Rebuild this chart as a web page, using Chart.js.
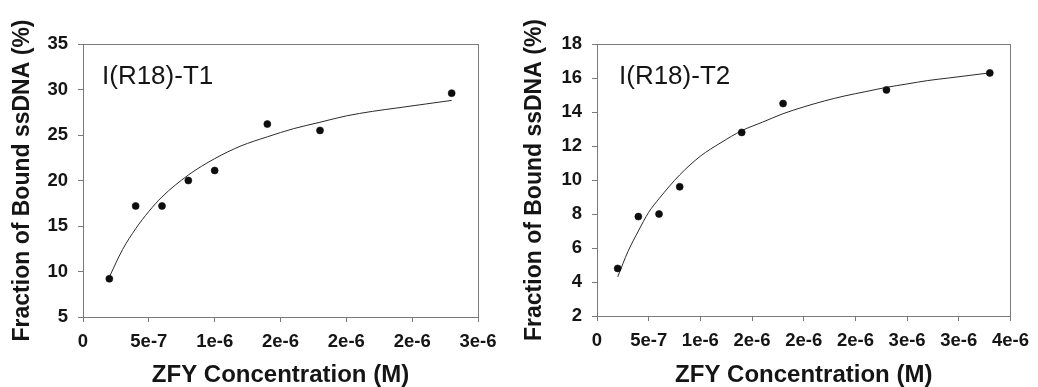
<!DOCTYPE html>
<html>
<head>
<meta charset="utf-8">
<script src="https://cdn.jsdelivr.net/npm/chart.js@4/dist/chart.umd.min.js"></script>
<style>
  html, body { margin: 0; padding: 0; background: #ffffff; }
  #wrap { position: relative; width: 1038px; height: 387px; overflow: hidden; }
  canvas { position: absolute; top: 0; }
  #c1 { left: 0; }
  #c2 { left: 512px; }
</style>
</head>
<body>
<div id="wrap">
  <canvas id="c1" width="512" height="387"></canvas>
  <canvas id="c2" width="526" height="387"></canvas>
</div>
<script>
// ---- I(R18)-T1: measured binding points (ZFY concentration in M, bound ssDNA in %)
const t1Conc  = [2e-7, 4e-7, 6e-7, 8e-7, 1.0e-6, 1.4e-6, 1.8e-6, 2.8e-6];
const t1Bound = [9.2, 17.2, 17.2, 20.0, 21.1, 26.2, 25.5, 29.6];
// fitted saturation curve for T1
const t1FitConc  = [2e-7, 3e-7, 4e-7, 5e-7, 6e-7, 8e-7, 1.0e-6, 1.2e-6, 1.4e-6, 1.6e-6, 1.8e-6, 2.0e-6, 2.2e-6, 2.4e-6, 2.6e-6, 2.8e-6];
const t1FitBound = [9.4, 12.4, 14.7, 16.6, 18.2, 20.6, 22.4, 23.8, 24.8, 25.7, 26.4, 27.1, 27.6, 28.0, 28.4, 28.8];
const t1XTickLabels = ['0', '5e-7', '1e-6', '2e-6', '2e-6', '2e-6', '3e-6'];

// ---- I(R18)-T2
const t2Conc  = [2e-7, 4e-7, 6e-7, 8e-7, 1.4e-6, 1.8e-6, 2.8e-6, 3.8e-6];
const t2Bound = [4.8, 7.85, 8.0, 9.6, 12.8, 14.5, 15.3, 16.3];
const t2FitConc  = [2e-7, 3e-7, 4e-7, 5e-7, 6e-7, 8e-7, 1.0e-6, 1.2e-6, 1.4e-6, 1.6e-6, 1.8e-6, 2.0e-6, 2.2e-6, 2.4e-6, 2.6e-6, 2.8e-6, 3.0e-6, 3.2e-6, 3.4e-6, 3.6e-6, 3.8e-6];
const t2FitBound = [4.3, 5.8, 7.0, 8.1, 8.9, 10.3, 11.4, 12.2, 12.9, 13.4, 13.9, 14.3, 14.65, 14.95, 15.2, 15.45, 15.65, 15.85, 16.0, 16.15, 16.3];
const t2XTickLabels = ['0', '5e-7', '1e-6', '2e-6', '2e-6', '2e-6', '3e-6', '3e-6', '4e-6'];

const FONT = "'Liberation Sans', Arial, Helvetica, sans-serif";
const AXIS_COLOR = '#7a7a7a';
const TEXT_COLOR = '#151515';

// draws the panel caption inside the plot frame
const panelLabel = {
  id: 'panelLabel',
  afterDatasetsDraw(chart, args, opts) {
    const { ctx, chartArea } = chart;
    ctx.save();
    ctx.font = `normal ${opts.size}px ${FONT}`;
    ctx.fillStyle = TEXT_COLOR;
    ctx.textBaseline = 'alphabetic';
    ctx.textAlign = 'left';
    ctx.fillText(opts.text, chartArea.left + opts.dx, chartArea.top + opts.dy);
    ctx.restore();
  }
};

function pairs(xs, ys) {
  return xs.map((x, i) => ({ x: x, y: ys[i] }));
}

function buildChart(canvasId, cfg) {
  return new Chart(document.getElementById(canvasId), {
    type: 'scatter',
    data: {
      datasets: [
        {
          label: 'measured',
          data: pairs(cfg.conc, cfg.bound),
          pointRadius: 3.5,
          pointHoverRadius: 3.5,
          pointBackgroundColor: '#0d0d0d',
          pointBorderColor: '#0d0d0d',
          pointBorderWidth: 0.6,
          showLine: false
        },
        {
          label: 'fit',
          data: pairs(cfg.fitConc, cfg.fitBound),
          showLine: true,
          pointRadius: 0,
          borderColor: '#2a2a2a',
          borderWidth: 1,
          cubicInterpolationMode: 'monotone',
          fill: false
        }
      ]
    },
    options: {
      responsive: false,
      devicePixelRatio: 1,
      animation: false,
      events: [],
      layout: { padding: { top: 44, right: cfg.padRight, bottom: 0, left: 0 } },
      plugins: {
        legend: { display: false },
        tooltip: { enabled: false },
        panelLabel: { text: cfg.caption, dx: cfg.captionDx, dy: 40, size: 26 }
      },
      scales: {
        x: {
          type: 'linear',
          position: 'bottom',
          min: 0,
          max: cfg.xMax,
          ticks: {
            stepSize: 5e-7,
            autoSkip: false,
            maxRotation: 0,
            padding: 9,
            color: TEXT_COLOR,
            font: { family: FONT, size: 18.5, weight: 'bold' },
            callback: (v, i) => cfg.xLabels[i]
          },
          grid: { display: true, drawOnChartArea: false, drawTicks: true, tickLength: 5, color: AXIS_COLOR },
          border: { display: true, color: AXIS_COLOR, width: 1 },
          title: {
            display: true,
            text: 'ZFY Concentration (M)',
            color: TEXT_COLOR,
            font: { family: FONT, size: 24, weight: 'bold', lineHeight: 1 },
            padding: { top: 0, bottom: 0 }
          },
          afterFit: (s) => { s.height = cfg.xAxisHeight; }
        },
        y: {
          type: 'linear',
          position: 'left',
          min: cfg.yMin,
          max: cfg.yMax,
          ticks: {
            stepSize: cfg.yStep,
            padding: 10,
            color: TEXT_COLOR,
            font: { family: FONT, size: 18.5, weight: 'bold' }
          },
          grid: { display: true, drawOnChartArea: false, drawTicks: true, tickLength: 5, color: AXIS_COLOR },
          border: { display: true, color: AXIS_COLOR, width: 1 },
          title: {
            display: true,
            text: 'Fraction of Bound ssDNA (%)',
            color: TEXT_COLOR,
            font: { family: FONT, size: 23, weight: 'bold', lineHeight: 1 },
            padding: { top: 11.5, bottom: 0 }
          },
          afterFit: (s) => { s.width = cfg.yAxisWidth; }
        },
        xTop: {
          axis: 'x',
          type: 'linear',
          position: 'top',
          min: 0,
          max: cfg.xMax,
          ticks: { display: false },
          grid: { display: false },
          border: { display: true, color: AXIS_COLOR, width: 1 },
          afterFit: (s) => { s.height = 0; }
        },
        yRight: {
          axis: 'y',
          type: 'linear',
          position: 'right',
          min: cfg.yMin,
          max: cfg.yMax,
          ticks: { display: false },
          grid: { display: false },
          border: { display: true, color: AXIS_COLOR, width: 1 },
          afterFit: (s) => { s.width = 0; }
        }
      }
    },
    plugins: [panelLabel]
  });
}

buildChart('c1', {
  conc: t1Conc, bound: t1Bound,
  fitConc: t1FitConc, fitBound: t1FitBound,
  xMax: 3e-6, xLabels: t1XTickLabels,
  yMin: 5, yMax: 35, yStep: 5,
  caption: 'I(R18)-T1', captionDx: 19,
  padRight: 34, yAxisWidth: 83, xAxisHeight: 70
});

buildChart('c2', {
  conc: t2Conc, bound: t2Bound,
  fitConc: t2FitConc, fitBound: t2FitBound,
  xMax: 4e-6, xLabels: t2XTickLabels,
  yMin: 2, yMax: 18, yStep: 2,
  caption: 'I(R18)-T2', captionDx: 22,
  padRight: 21, yAxisWidth: 85, xAxisHeight: 71
});
</script>
</body>
</html>
